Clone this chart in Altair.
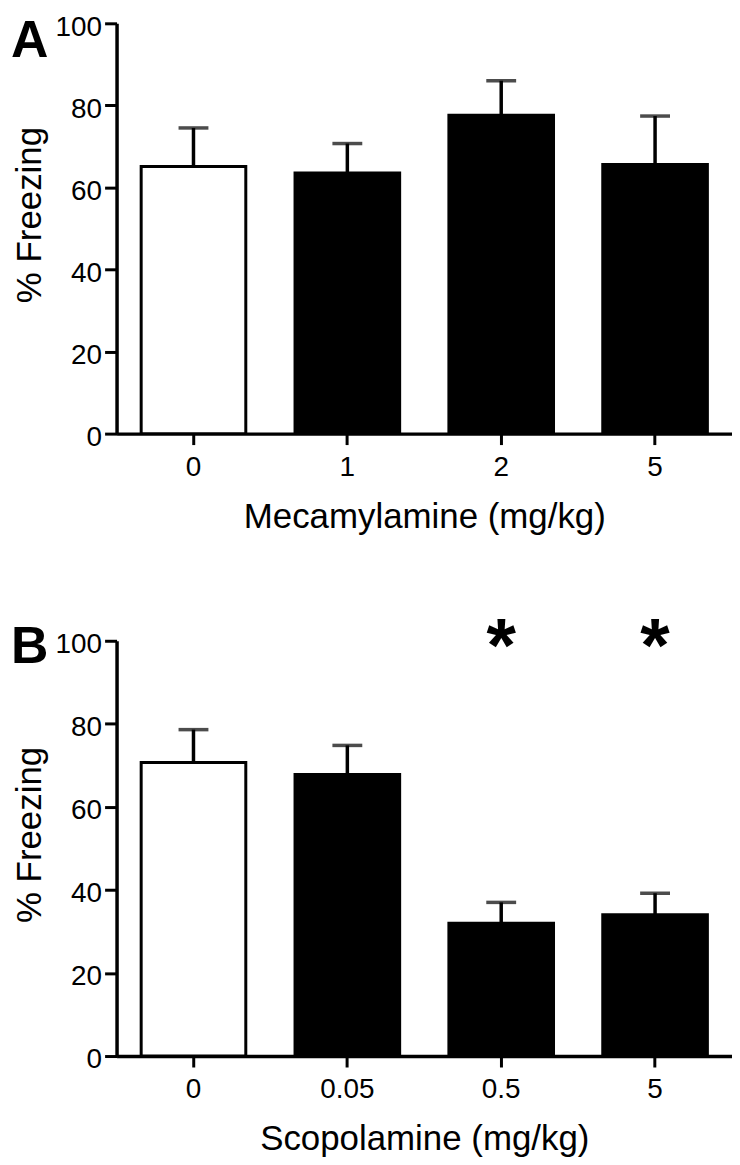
import altair as alt
import pandas as pd

# Panel A: Mecamylamine
doses_a = ["0", "1", "2", "5"]
freezing_a = [65.1, 63.5, 77.6, 65.6]
sem_a = [9.4, 7.2, 8.4, 11.8]
group_a = ["Vehicle", "Drug", "Drug", "Drug"]
sig_a = ["", "", "", ""]

# Panel B: Scopolamine
doses_b = ["0", "0.05", "0.5", "5"]
freezing_b = [70.7, 67.8, 32.0, 34.0]
sem_b = [7.9, 7.0, 5.0, 5.2]
group_b = ["Vehicle", "Drug", "Drug", "Drug"]
sig_b = ["", "", "*", "*"]

FONT = "Liberation Sans"


def panel(doses, freezing, sem, groups, sig, xtitle, letter, height, letter_y):
    df = pd.DataFrame({
        "dose": doses,
        "freezing": freezing,
        "upper": [f + s for f, s in zip(freezing, sem)],
        "group": groups,
        "sig": sig,
    })
    x = alt.X(
        "dose:N",
        sort=doses,
        title=xtitle,
        scale=alt.Scale(paddingInner=0.32, paddingOuter=0.16),
        axis=alt.Axis(
            labelAngle=0, labelFontSize=28, labelPadding=9, tickSize=11,
            tickWidth=3, domainWidth=3.5, titleFontSize=35, titlePadding=18,
            titleFontWeight="normal", labelColor="black", titleColor="black",
            domainColor="black", tickColor="black",
        ),
    )
    y_scale = alt.Scale(domain=[0, 100], nice=False)
    y = alt.Y(
        "freezing:Q",
        scale=y_scale,
        title="% Freezing",
        axis=alt.Axis(
            values=[0, 20, 40, 60, 80, 100], grid=False, labelFontSize=28,
            labelPadding=3, labelOffset=4, tickSize=12, tickWidth=3,
            domainWidth=3.5, titleFontSize=35, titlePadding=8,
            titleFontWeight="normal", titleY=height / 2 - 14,
            labelColor="black", titleColor="black", domainColor="black",
            tickColor="black",
        ),
    )
    base = alt.Chart(df)
    err = base.mark_rule(color="black", strokeWidth=3.5).encode(
        x=x, y=alt.Y("freezing:Q", scale=y_scale), y2="upper:Q"
    )
    cap = base.mark_tick(color="black", size=30, thickness=3.5).encode(
        x=x, y=alt.Y("upper:Q", scale=y_scale)
    )
    bars = base.mark_bar(stroke="black", strokeWidth=3).encode(
        x=x,
        y=y,
        fill=alt.Fill(
            "group:N",
            scale=alt.Scale(domain=["Vehicle", "Drug"], range=["white", "black"]),
            legend=None,
        ),
    )
    stars = base.transform_filter("datum.sig != ''").mark_text(
        fontSize=76, fontWeight="bold", font=FONT, baseline="top",
        dy=-30, color="black",
    ).encode(x=x, y=alt.datum(100), text="sig:N")
    label = alt.Chart(pd.DataFrame({"t": [letter]})).mark_text(
        fontSize=52, fontWeight="bold", font=FONT, align="left",
        baseline="top", color="black",
    ).encode(x=alt.value(-106), y=alt.value(letter_y), text="t:N")
    return alt.layer(err, cap, bars, stars, label).properties(
        width=618, height=height
    )


a = panel(doses_a, freezing_a, sem_a, group_a, sig_a,
          "Mecamylamine (mg/kg)", "A", 412, -7)
b = panel(doses_b, freezing_b, sem_b, group_b, sig_b,
          "Scopolamine (mg/kg)", "B", 417, -19)

chart = alt.vconcat(a, b, spacing=76).properties(
    padding={"top": 3, "left": 3, "right": 0, "bottom": 0}
).configure(font=FONT).configure_view(stroke=None)

chart.save("out.html", embed_options={"renderer": "svg", "actions": False})
